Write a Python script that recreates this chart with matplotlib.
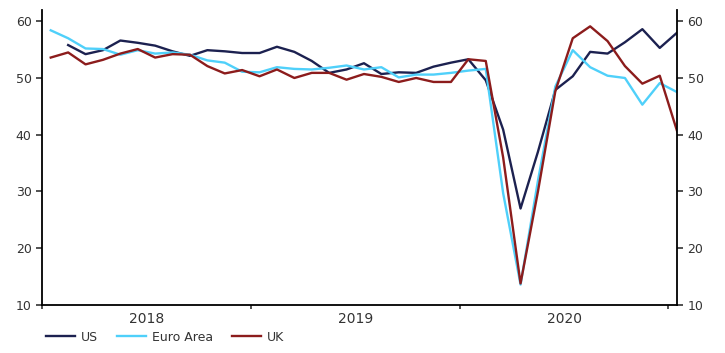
import numpy as np
import matplotlib
matplotlib.use("Agg")
import matplotlib.pyplot as plt

# Composite PMIs, monthly Jan 2018 - Jan 2021
months = np.arange(37)
year_labels = ["2018", "2019", "2020"]

us = [np.nan, 55.8, 54.2, 54.9, 56.6, 56.2, 55.7, 54.7, 53.9, 54.9, 54.7, 54.4,
      54.4, 55.5, 54.6, 53.0, 50.9, 51.5, 52.6, 50.7, 51.0, 50.9, 52.0, 52.7,
      53.3, 49.6, 40.9, 27.0, 37.0, 47.9, 50.3, 54.6, 54.3, 56.3, 58.6, 55.3,
      58.0]
euro_area = [58.4, 57.0, 55.2, 55.1, 54.1, 54.9, 54.3, 54.5, 54.1, 53.1, 52.7, 51.1,
             51.0, 51.9, 51.6, 51.5, 51.8, 52.2, 51.5, 51.9, 50.1, 50.6, 50.6, 50.9,
             51.3, 51.6, 29.7, 13.6, 31.9, 48.5, 54.9, 51.9, 50.4, 50.0, 45.3, 49.1,
             47.5]
uk = [53.6, 54.5, 52.4, 53.2, 54.3, 55.1, 53.6, 54.2, 54.1, 52.1, 50.8, 51.4,
      50.3, 51.5, 50.0, 50.9, 50.9, 49.7, 50.7, 50.2, 49.3, 50.0, 49.3, 49.3,
      53.3, 53.0, 36.0, 13.8, 30.0, 47.7, 57.0, 59.1, 56.5, 52.1, 49.0, 50.4,
      40.6]

fig = plt.figure(figsize=(7.25, 3.53), dpi=100)
ax = fig.add_axes([0.058, 0.136, 0.876, 0.836])

ax.plot(months, us, color="#1c2150", lw=1.7, label="US")
ax.plot(months, euro_area, color="#4fd0fa", lw=1.7, label="Euro Area")
ax.plot(months, uk, color="#8c1c1c", lw=1.7, label="UK")

ax.set_xlim(0, 36)
ax.set_ylim(10, 62)
ax.set_yticks([10, 20, 30, 40, 50, 60])

# year boundaries as ticks, year names in between
ax.set_xticks([-0.5, 11.5, 23.5, 35.5])
ax.set_xticklabels([])
ax.set_xticks([5.5, 17.5, 29.5], minor=True)
ax.set_xticklabels(year_labels, minor=True)
ax.tick_params(axis="x", which="major", direction="out", length=3, width=1.2)
ax.tick_params(axis="x", which="minor", length=0, pad=5)
ax.tick_params(axis="y", which="both", direction="out", length=4, width=1.2,
               left=True, right=True, labelleft=True, labelright=True)
ax.tick_params(labelsize=9, colors="#333333")
for t in ax.get_xticklabels(minor=True):
    t.set_color("#333333")

ax.spines["top"].set_visible(False)
for s in ["left", "right", "bottom"]:
    ax.spines[s].set_linewidth(1.3)
    ax.spines[s].set_color("black")

leg = fig.legend(loc="upper left", bbox_to_anchor=(0.057, 0.077), ncol=3,
                 frameon=False, fontsize=9, handlelength=2.3, columnspacing=1.5,
                 borderaxespad=0, handletextpad=0.5)
for t in leg.get_texts():
    t.set_color("#333333")

fig.savefig("out.png", dpi=100)
